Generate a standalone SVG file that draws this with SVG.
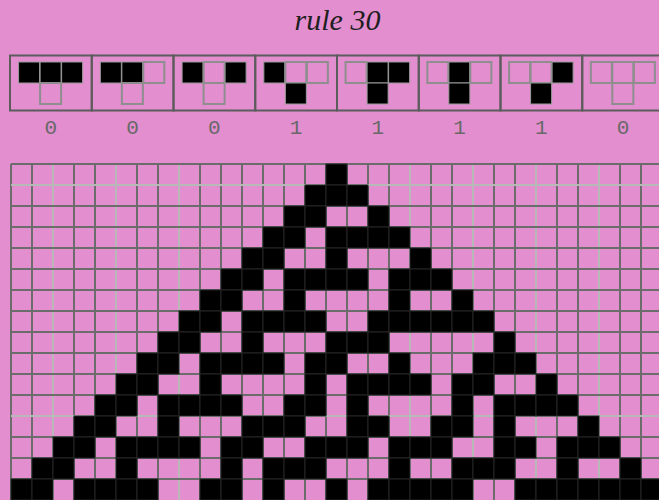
<svg xmlns="http://www.w3.org/2000/svg" xmlns:xlink="http://www.w3.org/1999/xlink" width="659" height="500" viewBox="0 0 659 500">
<style>
.bg{fill:#e38ecf}
.title{font-family:"Liberation Serif",serif;font-style:italic;font-size:30px;fill:#1e1e1e;text-anchor:middle}
.box{fill:none;stroke:#5c5c5c;stroke-width:2}
.w{fill:none;stroke:#8e8e8e;stroke-width:2}
.b{fill:#000;stroke:#9a9a9a;stroke-width:1}
.lbl{font-family:"Liberation Mono",monospace;font-size:21px;fill:#686868;text-anchor:middle}
.gd{stroke:#6c6c6c;stroke-width:2;fill:none}
.gl{stroke:#b8b8b8;stroke-width:2;fill:none}
.k{fill:#000;stroke:#262626;stroke-width:1}
</style>
<defs>
<rect id="c" width="21" height="21" class="k"/>
</defs>
<rect class="bg" x="0" y="0" width="659" height="500"/>
<text id="title" class="title" x="337.5" y="30">rule 30</text>

<g id="rules">
<g id="rule-111" transform="translate(10,0)"><rect class="box" x="0" y="55.5" width="81.75" height="55"/><rect class="b" x="8.6" y="62" width="21" height="21"/><rect class="b" x="30.1" y="62" width="21" height="21"/><rect class="b" x="51.6" y="62" width="21" height="21"/><rect class="w" x="30.1" y="83" width="21" height="21"/><text class="lbl" x="40.9" y="134">0</text></g>
<g id="rule-110" transform="translate(91.75,0)"><rect class="box" x="0" y="55.5" width="81.75" height="55"/><rect class="b" x="8.6" y="62" width="21" height="21"/><rect class="b" x="30.1" y="62" width="21" height="21"/><rect class="w" x="51.6" y="62" width="21" height="21"/><rect class="w" x="30.1" y="83" width="21" height="21"/><text class="lbl" x="40.9" y="134">0</text></g>
<g id="rule-101" transform="translate(173.5,0)"><rect class="box" x="0" y="55.5" width="81.75" height="55"/><rect class="b" x="8.6" y="62" width="21" height="21"/><rect class="w" x="30.1" y="62" width="21" height="21"/><rect class="b" x="51.6" y="62" width="21" height="21"/><rect class="w" x="30.1" y="83" width="21" height="21"/><text class="lbl" x="40.9" y="134">0</text></g>
<g id="rule-100" transform="translate(255.25,0)"><rect class="box" x="0" y="55.5" width="81.75" height="55"/><rect class="b" x="8.6" y="62" width="21" height="21"/><rect class="w" x="30.1" y="62" width="21" height="21"/><rect class="w" x="51.6" y="62" width="21" height="21"/><rect class="b" x="30.1" y="83" width="21" height="21"/><text class="lbl" x="40.9" y="134">1</text></g>
<g id="rule-011" transform="translate(337,0)"><rect class="box" x="0" y="55.5" width="81.75" height="55"/><rect class="w" x="8.6" y="62" width="21" height="21"/><rect class="b" x="30.1" y="62" width="21" height="21"/><rect class="b" x="51.6" y="62" width="21" height="21"/><rect class="b" x="30.1" y="83" width="21" height="21"/><text class="lbl" x="40.9" y="134">1</text></g>
<g id="rule-010" transform="translate(418.75,0)"><rect class="box" x="0" y="55.5" width="81.75" height="55"/><rect class="w" x="8.6" y="62" width="21" height="21"/><rect class="b" x="30.1" y="62" width="21" height="21"/><rect class="w" x="51.6" y="62" width="21" height="21"/><rect class="b" x="30.1" y="83" width="21" height="21"/><text class="lbl" x="40.9" y="134">1</text></g>
<g id="rule-001" transform="translate(500.5,0)"><rect class="box" x="0" y="55.5" width="81.75" height="55"/><rect class="w" x="8.6" y="62" width="21" height="21"/><rect class="w" x="30.1" y="62" width="21" height="21"/><rect class="b" x="51.6" y="62" width="21" height="21"/><rect class="b" x="30.1" y="83" width="21" height="21"/><text class="lbl" x="40.9" y="134">1</text></g>
<g id="rule-000" transform="translate(582.25,0)"><rect class="box" x="0" y="55.5" width="81.75" height="55"/><rect class="w" x="8.6" y="62" width="21" height="21"/><rect class="w" x="30.1" y="62" width="21" height="21"/><rect class="w" x="51.6" y="62" width="21" height="21"/><rect class="w" x="30.1" y="83" width="21" height="21"/><text class="lbl" x="40.9" y="134">0</text></g>
</g>

<g id="grid">
<path class="gd" d="M11 164V500M32 164V500M74 164V500M95 164V500M137 164V500M158 164V500M200 164V500M221 164V500M242 164V500M263 164V500M284 164V500M305 164V500M326 164V500M347 164V500M368 164V500M389 164V500M431 164V500M452 164V500M494 164V500M515 164V500M557 164V500M578 164V500M620 164V500M641 164V500"/>
<path class="gl" d="M53 164V500M116 164V500M179 164V500M410 164V500M473 164V500M536 164V500M599 164V500M11 185H659M11 416H659"/>
<path class="gd" d="M11 164H659M11 206H659M11 227H659M11 248H659M11 269H659M11 290H659M11 311H659M11 332H659M11 353H659M11 374H659M11 395H659M11 437H659M11 458H659M11 479H659"/>
</g>

<g id="cells">
<use xlink:href="#c" x="326" y="164"/>
<use xlink:href="#c" x="305" y="185"/><use xlink:href="#c" x="326" y="185"/><use xlink:href="#c" x="347" y="185"/>
<use xlink:href="#c" x="284" y="206"/><use xlink:href="#c" x="305" y="206"/><use xlink:href="#c" x="368" y="206"/>
<use xlink:href="#c" x="263" y="227"/><use xlink:href="#c" x="284" y="227"/><use xlink:href="#c" x="326" y="227"/><use xlink:href="#c" x="347" y="227"/><use xlink:href="#c" x="368" y="227"/><use xlink:href="#c" x="389" y="227"/>
<use xlink:href="#c" x="242" y="248"/><use xlink:href="#c" x="263" y="248"/><use xlink:href="#c" x="326" y="248"/><use xlink:href="#c" x="410" y="248"/>
<use xlink:href="#c" x="221" y="269"/><use xlink:href="#c" x="242" y="269"/><use xlink:href="#c" x="284" y="269"/><use xlink:href="#c" x="305" y="269"/><use xlink:href="#c" x="326" y="269"/><use xlink:href="#c" x="347" y="269"/><use xlink:href="#c" x="389" y="269"/><use xlink:href="#c" x="410" y="269"/><use xlink:href="#c" x="431" y="269"/>
<use xlink:href="#c" x="200" y="290"/><use xlink:href="#c" x="221" y="290"/><use xlink:href="#c" x="284" y="290"/><use xlink:href="#c" x="389" y="290"/><use xlink:href="#c" x="452" y="290"/>
<use xlink:href="#c" x="179" y="311"/><use xlink:href="#c" x="200" y="311"/><use xlink:href="#c" x="242" y="311"/><use xlink:href="#c" x="263" y="311"/><use xlink:href="#c" x="284" y="311"/><use xlink:href="#c" x="305" y="311"/><use xlink:href="#c" x="368" y="311"/><use xlink:href="#c" x="389" y="311"/><use xlink:href="#c" x="410" y="311"/><use xlink:href="#c" x="431" y="311"/><use xlink:href="#c" x="452" y="311"/><use xlink:href="#c" x="473" y="311"/>
<use xlink:href="#c" x="158" y="332"/><use xlink:href="#c" x="179" y="332"/><use xlink:href="#c" x="242" y="332"/><use xlink:href="#c" x="326" y="332"/><use xlink:href="#c" x="347" y="332"/><use xlink:href="#c" x="368" y="332"/><use xlink:href="#c" x="494" y="332"/>
<use xlink:href="#c" x="137" y="353"/><use xlink:href="#c" x="158" y="353"/><use xlink:href="#c" x="200" y="353"/><use xlink:href="#c" x="221" y="353"/><use xlink:href="#c" x="242" y="353"/><use xlink:href="#c" x="263" y="353"/><use xlink:href="#c" x="305" y="353"/><use xlink:href="#c" x="326" y="353"/><use xlink:href="#c" x="389" y="353"/><use xlink:href="#c" x="473" y="353"/><use xlink:href="#c" x="494" y="353"/><use xlink:href="#c" x="515" y="353"/>
<use xlink:href="#c" x="116" y="374"/><use xlink:href="#c" x="137" y="374"/><use xlink:href="#c" x="200" y="374"/><use xlink:href="#c" x="305" y="374"/><use xlink:href="#c" x="347" y="374"/><use xlink:href="#c" x="368" y="374"/><use xlink:href="#c" x="389" y="374"/><use xlink:href="#c" x="410" y="374"/><use xlink:href="#c" x="452" y="374"/><use xlink:href="#c" x="473" y="374"/><use xlink:href="#c" x="536" y="374"/>
<use xlink:href="#c" x="95" y="395"/><use xlink:href="#c" x="116" y="395"/><use xlink:href="#c" x="158" y="395"/><use xlink:href="#c" x="179" y="395"/><use xlink:href="#c" x="200" y="395"/><use xlink:href="#c" x="221" y="395"/><use xlink:href="#c" x="284" y="395"/><use xlink:href="#c" x="305" y="395"/><use xlink:href="#c" x="347" y="395"/><use xlink:href="#c" x="452" y="395"/><use xlink:href="#c" x="494" y="395"/><use xlink:href="#c" x="515" y="395"/><use xlink:href="#c" x="536" y="395"/><use xlink:href="#c" x="557" y="395"/>
<use xlink:href="#c" x="74" y="416"/><use xlink:href="#c" x="95" y="416"/><use xlink:href="#c" x="158" y="416"/><use xlink:href="#c" x="242" y="416"/><use xlink:href="#c" x="263" y="416"/><use xlink:href="#c" x="284" y="416"/><use xlink:href="#c" x="347" y="416"/><use xlink:href="#c" x="368" y="416"/><use xlink:href="#c" x="431" y="416"/><use xlink:href="#c" x="452" y="416"/><use xlink:href="#c" x="494" y="416"/><use xlink:href="#c" x="578" y="416"/>
<use xlink:href="#c" x="53" y="437"/><use xlink:href="#c" x="74" y="437"/><use xlink:href="#c" x="116" y="437"/><use xlink:href="#c" x="137" y="437"/><use xlink:href="#c" x="158" y="437"/><use xlink:href="#c" x="179" y="437"/><use xlink:href="#c" x="221" y="437"/><use xlink:href="#c" x="242" y="437"/><use xlink:href="#c" x="305" y="437"/><use xlink:href="#c" x="326" y="437"/><use xlink:href="#c" x="347" y="437"/><use xlink:href="#c" x="389" y="437"/><use xlink:href="#c" x="410" y="437"/><use xlink:href="#c" x="431" y="437"/><use xlink:href="#c" x="494" y="437"/><use xlink:href="#c" x="515" y="437"/><use xlink:href="#c" x="557" y="437"/><use xlink:href="#c" x="578" y="437"/><use xlink:href="#c" x="599" y="437"/>
<use xlink:href="#c" x="32" y="458"/><use xlink:href="#c" x="53" y="458"/><use xlink:href="#c" x="116" y="458"/><use xlink:href="#c" x="221" y="458"/><use xlink:href="#c" x="263" y="458"/><use xlink:href="#c" x="284" y="458"/><use xlink:href="#c" x="305" y="458"/><use xlink:href="#c" x="389" y="458"/><use xlink:href="#c" x="452" y="458"/><use xlink:href="#c" x="473" y="458"/><use xlink:href="#c" x="494" y="458"/><use xlink:href="#c" x="557" y="458"/><use xlink:href="#c" x="620" y="458"/>
<use xlink:href="#c" x="11" y="479"/><use xlink:href="#c" x="32" y="479"/><use xlink:href="#c" x="74" y="479"/><use xlink:href="#c" x="95" y="479"/><use xlink:href="#c" x="116" y="479"/><use xlink:href="#c" x="137" y="479"/><use xlink:href="#c" x="200" y="479"/><use xlink:href="#c" x="221" y="479"/><use xlink:href="#c" x="263" y="479"/><use xlink:href="#c" x="326" y="479"/><use xlink:href="#c" x="368" y="479"/><use xlink:href="#c" x="389" y="479"/><use xlink:href="#c" x="410" y="479"/><use xlink:href="#c" x="431" y="479"/><use xlink:href="#c" x="452" y="479"/><use xlink:href="#c" x="515" y="479"/><use xlink:href="#c" x="536" y="479"/><use xlink:href="#c" x="557" y="479"/><use xlink:href="#c" x="578" y="479"/><use xlink:href="#c" x="599" y="479"/><use xlink:href="#c" x="620" y="479"/><use xlink:href="#c" x="641" y="479"/>
</g>
</svg>
